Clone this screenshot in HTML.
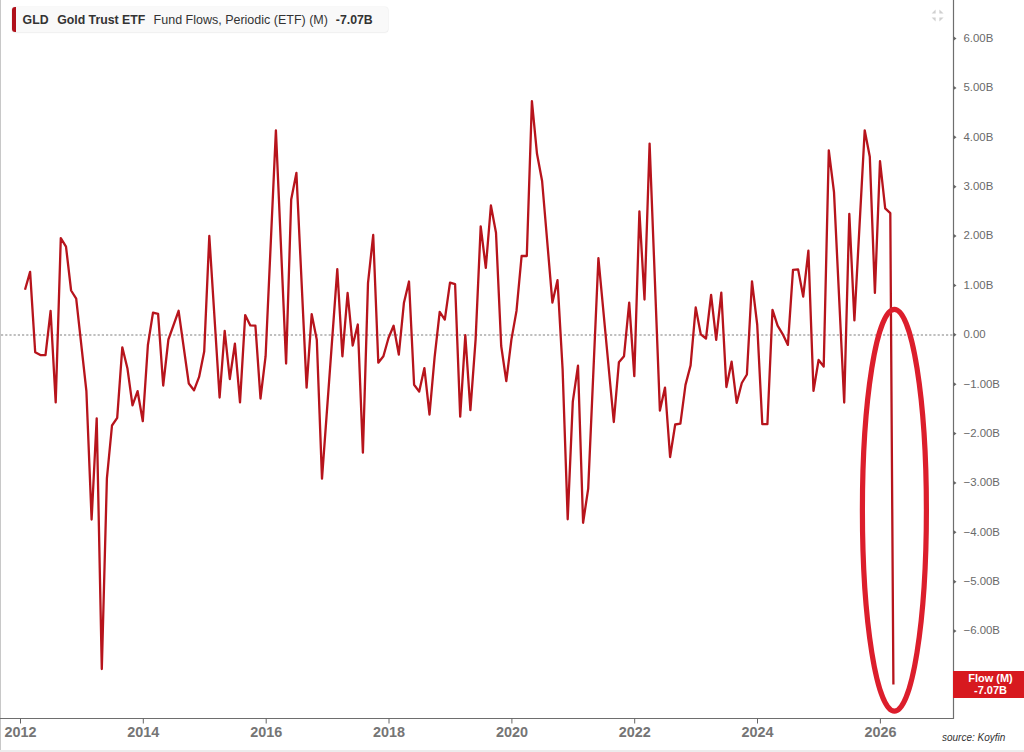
<!DOCTYPE html>
<html><head><meta charset="utf-8">
<style>
html,body{margin:0;padding:0;background:#fff;}
body{width:1024px;height:752px;overflow:hidden;position:relative;font-family:"Liberation Sans",sans-serif;}
svg{position:absolute;left:0;top:0;}
.hdr{position:absolute;left:12px;top:7px;width:376px;height:25px;background:#f9f9f9;border-radius:3px;box-shadow:0 0 0 0.6px rgba(0,0,0,0.06), 0 1px 2px rgba(0,0,0,0.04);}
.hdr .bar{position:absolute;left:0;top:0;width:4px;height:25px;background:#b0101a;border-radius:3px 0 0 3px;}
.hdr span{position:absolute;top:5.5px;font-size:12.5px;line-height:14px;color:#333;white-space:nowrap;}
.b{font-weight:bold;font-size:12.3px !important;}
.flow{position:absolute;left:953px;top:671px;width:71px;height:27px;background:#d7191f;color:#fff;font-weight:bold;font-size:11px;line-height:11.5px;text-align:center;padding-top:2px;padding-left:4px;box-sizing:border-box;}
.src{position:absolute;left:942px;top:732px;font-size:10px;font-style:italic;color:#333;}
.strip{position:absolute;left:0;top:750px;width:1024px;height:2px;background:#ececec;}
</style></head><body>
<svg width="1024" height="752" viewBox="0 0 1024 752">
<rect x="0" y="0" width="1" height="752" fill="#c8c8c8"/>
<line x1="1" y1="335" x2="953" y2="335" stroke="#808080" stroke-width="1.1" stroke-dasharray="2.2,2"/>
<path d="M25.0,289.7 L30.1,271.9 L35.2,352.2 L40.4,355.1 L45.5,355.1 L50.6,311.0 L55.7,402.4 L60.8,238.1 L66.0,246.6 L71.1,290.5 L76.2,298.6 L86.4,391.2 L91.6,519.5 L96.7,418.3 L101.8,669.0 L106.9,478.3 L112.0,425.5 L117.2,417.8 L122.3,347.3 L127.4,368.2 L132.5,405.4 L137.6,391.2 L142.8,421.2 L147.9,345.0 L153.0,312.6 L158.1,313.8 L163.2,385.5 L168.4,339.5 L178.6,310.8 L188.8,383.5 L194.0,390.3 L199.1,376.9 L204.2,351.6 L209.3,236.0 L219.6,397.5 L224.7,330.9 L229.8,379.0 L234.9,343.6 L240.0,402.4 L245.2,315.1 L250.3,325.4 L255.4,325.6 L260.5,398.5 L265.6,356.2 L275.9,130.3 L286.1,363.5 L291.2,199.5 L296.4,172.9 L306.6,387.6 L311.7,314.2 L316.8,339.7 L322.0,478.7 L337.3,269.2 L342.4,356.3 L347.6,293.0 L352.7,345.6 L357.8,324.5 L362.9,452.6 L368.0,283.1 L373.2,235.0 L378.3,362.7 L383.4,356.3 L388.5,338.0 L393.6,325.7 L398.8,354.6 L403.9,303.1 L409.0,281.5 L414.1,384.8 L419.2,391.6 L424.4,368.1 L429.5,414.5 L434.6,357.4 L439.7,311.8 L444.8,319.6 L450.0,282.6 L455.1,284.2 L460.2,416.6 L465.3,335.2 L470.4,410.2 L475.6,339.6 L480.7,226.3 L485.8,267.8 L490.9,205.5 L496.0,232.7 L501.2,346.0 L506.3,381.1 L511.4,339.6 L516.5,310.9 L521.6,256.0 L526.8,256.0 L531.9,101.2 L537.0,153.8 L542.1,181.0 L552.4,302.6 L557.5,280.2 L562.6,369.1 L567.7,519.3 L572.8,401.6 L578.0,365.7 L583.1,522.8 L588.2,488.6 L598.4,258.2 L613.8,422.0 L618.9,362.3 L624.0,356.2 L629.2,302.7 L634.3,376.2 L639.4,211.4 L644.5,299.5 L649.6,143.6 L659.9,410.6 L665.0,387.6 L670.1,457.0 L675.2,424.5 L680.4,423.7 L685.5,384.9 L690.6,365.4 L695.7,307.5 L700.8,334.4 L706.0,338.5 L711.1,294.8 L716.2,339.8 L721.3,292.6 L726.4,387.0 L731.6,361.7 L736.7,402.9 L741.8,383.0 L746.9,374.5 L752.0,281.4 L757.2,324.5 L762.3,424.2 L767.4,424.2 L772.5,309.8 L777.6,325.7 L782.8,334.3 L787.9,344.9 L793.0,269.9 L798.1,269.4 L803.2,296.5 L808.4,250.7 L813.5,390.9 L818.6,360.0 L823.7,366.5 L828.8,150.4 L834.0,192.1 L844.2,402.5 L849.3,213.9 L854.4,320.4 L864.7,130.3 L869.8,156.8 L874.9,292.9 L880.0,161.1 L885.2,208.3 L890.3,213.2 L893.4,684.6" fill="none" stroke="#b7141c" stroke-width="2.3" stroke-linejoin="round"/>
<ellipse cx="894.4" cy="510.3" rx="32" ry="200.9" fill="none" stroke="#dc1e2c" stroke-width="5.2"/>
<line x1="953.5" y1="0" x2="953.5" y2="718.8" stroke="#6e6e6e" stroke-width="1.2"/>
<line x1="0" y1="718.5" x2="954" y2="718.5" stroke="#6e6e6e" stroke-width="1.2"/>
<path d="M953.5,36.3 L956.5,38.5 L953.5,40.7Z" fill="#666"/><path d="M953.5,85.7 L956.5,87.9 L953.5,90.1Z" fill="#666"/><path d="M953.5,135.1 L956.5,137.3 L953.5,139.5Z" fill="#666"/><path d="M953.5,184.5 L956.5,186.7 L953.5,188.9Z" fill="#666"/><path d="M953.5,233.8 L956.5,236.0 L953.5,238.2Z" fill="#666"/><path d="M953.5,283.2 L956.5,285.4 L953.5,287.6Z" fill="#666"/><path d="M953.5,332.6 L956.5,334.8 L953.5,337.0Z" fill="#666"/><path d="M953.5,382.0 L956.5,384.2 L953.5,386.4Z" fill="#666"/><path d="M953.5,431.4 L956.5,433.6 L953.5,435.8Z" fill="#666"/><path d="M953.5,480.7 L956.5,482.9 L953.5,485.1Z" fill="#666"/><path d="M953.5,530.1 L956.5,532.3 L953.5,534.5Z" fill="#666"/><path d="M953.5,579.5 L956.5,581.7 L953.5,583.9Z" fill="#666"/><path d="M953.5,628.9 L956.5,631.1 L953.5,633.3Z" fill="#666"/>
<line x1="20.5" y1="718.5" x2="20.5" y2="723.5" stroke="#666" stroke-width="1"/><line x1="143.3" y1="718.5" x2="143.3" y2="723.5" stroke="#666" stroke-width="1"/><line x1="266.2" y1="718.5" x2="266.2" y2="723.5" stroke="#666" stroke-width="1"/><line x1="389.0" y1="718.5" x2="389.0" y2="723.5" stroke="#666" stroke-width="1"/><line x1="511.9" y1="718.5" x2="511.9" y2="723.5" stroke="#666" stroke-width="1"/><line x1="634.7" y1="718.5" x2="634.7" y2="723.5" stroke="#666" stroke-width="1"/><line x1="757.5" y1="718.5" x2="757.5" y2="723.5" stroke="#666" stroke-width="1"/><line x1="880.4" y1="718.5" x2="880.4" y2="723.5" stroke="#666" stroke-width="1"/>
<g font-family="Liberation Sans" font-size="11.4" fill="#6a6a6a"><text x="963.5" y="41.8">6.00B</text><text x="963.5" y="91.2">5.00B</text><text x="963.5" y="140.6">4.00B</text><text x="963.5" y="190.0">3.00B</text><text x="963.5" y="239.3">2.00B</text><text x="963.5" y="288.7">1.00B</text><text x="963.5" y="338.1">0.00</text><text x="963.5" y="387.5">−1.00B</text><text x="963.5" y="436.9">−2.00B</text><text x="963.5" y="486.2">−3.00B</text><text x="963.5" y="535.6">−4.00B</text><text x="963.5" y="585.0">−5.00B</text><text x="963.5" y="634.4">−6.00B</text></g>
<g font-family="Liberation Sans" font-size="14.4" font-weight="bold" fill="#757575" text-anchor="middle"><text x="20.5" y="737.2">2012</text><text x="143.3" y="737.2">2014</text><text x="266.2" y="737.2">2016</text><text x="389.0" y="737.2">2018</text><text x="511.9" y="737.2">2020</text><text x="634.7" y="737.2">2022</text><text x="757.5" y="737.2">2024</text><text x="880.4" y="737.2">2026</text></g>
<g fill="#d0d0d0">
<path d="M931.6,13.6 L935.6,13.6 L935.6,9.4Z"/>
<path d="M939.4,9.4 L939.4,13.6 L943.6,13.6Z"/>
<path d="M931.6,17.4 L935.6,17.4 L935.6,21.6Z"/>
<path d="M939.4,21.6 L939.4,17.4 L943.6,17.4Z"/>
</g>
</svg>
<div class="hdr"><div class="bar"></div>
<span class="b" style="left:10.6px">GLD</span>
<span class="b" style="left:45.2px">Gold Trust ETF</span>
<span style="left:141.6px">Fund Flows, Periodic (ETF) (M)</span>
<span class="b" style="left:323.8px">-7.07B</span>
</div>
<div class="flow">Flow (M)<br>-7.07B</div>
<div class="src">source: Koyfin</div>
<div class="strip"></div>
</body></html>
